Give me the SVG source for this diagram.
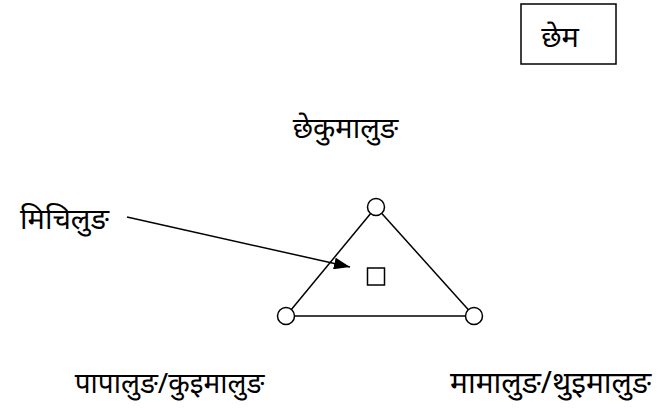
<svg xmlns="http://www.w3.org/2000/svg" width="664" height="413" viewBox="0 0 664 413">
<defs>
<style>
text{font-family:"Noto Sans","Noto Sans Devanagari","DejaVu Sans",sans-serif;font-size:29px;fill:#000}
.ln{stroke:#000;stroke-width:1.5;fill:none}
.nd{stroke:#000;stroke-width:1.5;fill:#fff}
</style>
<marker id="ah" viewBox="0 0 16 12" refX="16" refY="6" markerWidth="16" markerHeight="12" markerUnits="userSpaceOnUse" orient="auto">
<path d="M0,0 L16,6 L0,12 Z" fill="#000"/>
</marker>
</defs>
<rect width="664" height="413" fill="#fff"/>
<g id="legend">
<rect x="521" y="4" width="95" height="60" class="ln"/>
<text x="560" y="47" text-anchor="middle">छेम</text>
</g>
<g id="connectors">
<line x1="376" y1="207" x2="286" y2="316" class="ln"/>
<line x1="376" y1="207" x2="474" y2="316" class="ln"/>
<line x1="286" y1="316" x2="474" y2="316" class="ln"/>
<line x1="127" y1="217" x2="350" y2="267" class="ln" marker-end="url(#ah)"/>
</g>
<g id="top"><circle cx="376" cy="207" r="8.5" class="nd"/><text x="345.5" y="138" text-anchor="middle">छेकुमालुङ</text></g>
<g id="left"><circle cx="286" cy="316" r="8.5" class="nd"/><text x="169.5" y="393" text-anchor="middle" style="font-size:28px">पापालुङ/कुइमालुङ</text></g>
<g id="right"><circle cx="474" cy="316" r="8.5" class="nd"/><text x="550.5" y="393" text-anchor="middle" style="font-size:30px">मामालुङ/थुइमालुङ</text></g>
<g id="ego"><rect x="367.5" y="268" width="17" height="17" class="ln"/></g>
<g id="label"><text x="64.5" y="229" text-anchor="middle">मिचिलुङ</text></g>
</svg>
